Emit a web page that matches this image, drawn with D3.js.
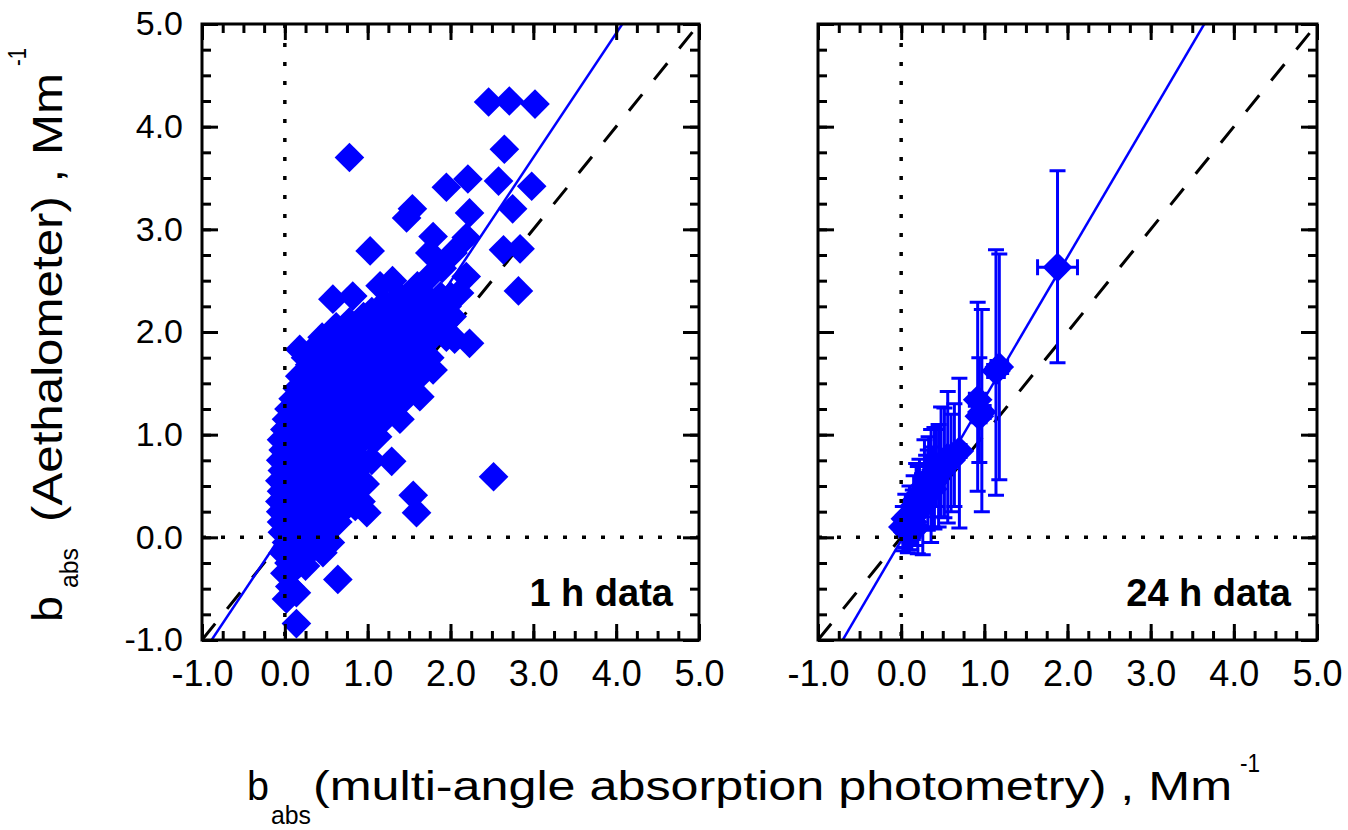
<!DOCTYPE html>
<html>
<head>
<meta charset="utf-8">
<script src="https://cdn.jsdelivr.net/npm/d3@7"></script>
<style>
  body { margin: 0; background: #fff; }
  text { font-family: "Liberation Sans", Arial, sans-serif; fill: #000; }
</style>
</head>
<body>
<div id="chart"></div>
<script>
// tick labels (both axes, both panels)
const axisTicks = [-1, 0, 1, 2, 3, 4, 5];

// 1 h data (dense cloud read row by row)
const hourX = [
  0.02, 0.14, 0.06, 0.14,
  0.00, 0.12, 0.25, 0.05, 0.18,
  -0.02, 0.10, 0.22, 0.35, 0.46,
  0.02, 0.16, 0.28, 0.40, 0.55,
  -0.03, 0.10, 0.22, 0.35, 0.45,
  -0.04, 0.06, 0.16, 0.28, 0.40, 0.52, 0.64,
  -0.05, 0.08, 0.20, 0.33, 0.46, 0.58, 0.72, 0.85, 0.99,
  -0.06, 0.03, 0.14, 0.26, 0.40, 0.52, 0.66, 0.80, 0.92,
  -0.04, 0.08, 0.20, 0.33, 0.46, 0.60, 0.72, 0.86, 0.97,
  -0.06, 0.03, 0.14, 0.27, 0.40, 0.54, 0.66, 0.80, 0.92,
  -0.03, 0.10, 0.22, 0.35, 0.48, 0.60, 0.72, 0.85, 0.95,
  -0.05, 0.04, 0.16, 0.28, 0.42, 0.54, 0.66, 0.80, 0.92, 1.05,
  -0.02, 0.10, 0.22, 0.35, 0.48, 0.60, 0.72, 0.85,
  -0.04, 0.06, 0.18, 0.31, 0.44, 0.56, 0.68, 0.82, 0.94, 1.06,
  0.00, 0.12, 0.25, 0.38, 0.50, 0.62, 0.75, 0.88, 1.00, 1.12,
  0.02, 0.14, 0.27, 0.40, 0.53, 0.66, 0.80, 0.93, 1.06, 1.20,
  0.05, 0.18, 0.30, 0.43, 0.56, 0.70, 0.83, 0.96, 1.10, 1.25, 1.39,
  0.10, 0.22, 0.35, 0.48, 0.62, 0.75, 0.88, 1.02, 1.15, 1.30, 1.45,
  0.15, 0.28, 0.40, 0.53, 0.66, 0.80, 0.93, 1.06, 1.20, 1.35, 1.50, 1.63,
  0.22, 0.35, 0.48, 0.62, 0.75, 0.90, 1.04, 1.18, 1.32, 1.46, 1.60,
  0.18, 0.30, 0.43, 0.56, 0.70, 0.84, 0.98, 1.12, 1.26, 1.40, 1.55, 1.79,
  0.25, 0.37, 0.50, 0.63, 0.77, 0.91, 1.05, 1.19, 1.33, 1.47, 1.62, 1.75,
  0.18, 0.38, 0.52, 0.66, 0.80, 0.95, 1.10, 1.25, 1.40, 1.55, 1.70, 2.05, 2.23,
  0.45, 0.58, 0.72, 0.87, 1.02, 1.17, 1.32, 1.47, 1.62, 1.78, 1.95,
  0.62, 0.78, 0.95, 1.10, 1.25, 1.40, 1.55, 1.70, 1.85,
  0.95, 1.12, 1.28, 1.42, 1.57, 1.72, 1.88, 2.02,
  1.05, 1.20, 1.35, 1.47, 1.62, 1.80, 1.96,
  1.38, 1.52, 1.70, 1.88, 2.00,
  0.58, 0.82, 1.15, 1.30, 1.60, 2.11, 2.82,
  1.75, 2.19, 1.90,
  1.03, 1.75, 2.03, 2.64, 2.84,
  1.79, 2.19, 1.47, 1.54, 2.23, 2.75,
  1.95, 2.21, 2.58, 2.98,
  2.65, 0.78, 2.46, 2.71, 3.02,
  2.52, 1.29, 1.55, 1.59, 0.64
];
const hourY = [
  -0.60, -0.54, -0.48, -0.84,
  -0.35, -0.30, -0.28, -0.25, -0.25,
  -0.15, -0.18, -0.12, -0.10, -0.15,
  -0.05, -0.05, -0.05, -0.05, -0.05,
  0.05, 0.00, 0.05, 0.02, 0.06,
  0.15, 0.15, 0.15, 0.15, 0.15, 0.15, 0.15,
  0.25, 0.22, 0.28, 0.20, 0.26, 0.20, 0.28, 0.30, 0.24,
  0.35, 0.35, 0.35, 0.35, 0.35, 0.35, 0.35, 0.35, 0.35,
  0.45, 0.42, 0.48, 0.44, 0.50, 0.42, 0.48, 0.45, 0.52,
  0.55, 0.55, 0.55, 0.55, 0.55, 0.55, 0.55, 0.55, 0.55,
  0.65, 0.62, 0.68, 0.62, 0.70, 0.64, 0.70, 0.66, 0.72,
  0.75, 0.75, 0.75, 0.75, 0.75, 0.75, 0.75, 0.75, 0.75, 0.75,
  0.85, 0.88, 0.82, 0.90, 0.84, 0.90, 0.84, 0.90,
  0.95, 0.95, 0.95, 0.95, 0.95, 0.95, 0.95, 0.95, 0.95, 0.95,
  1.05, 1.08, 1.02, 1.10, 1.04, 1.10, 1.02, 1.10, 1.05, 0.98,
  1.15, 1.15, 1.15, 1.15, 1.15, 1.15, 1.15, 1.15, 1.15, 1.15,
  1.25, 1.28, 1.22, 1.30, 1.24, 1.30, 1.22, 1.30, 1.25, 1.22, 1.15,
  1.35, 1.35, 1.35, 1.35, 1.35, 1.35, 1.35, 1.35, 1.35, 1.35, 1.35,
  1.45, 1.50, 1.42, 1.50, 1.44, 1.52, 1.44, 1.50, 1.45, 1.50, 1.42, 1.37,
  1.55, 1.55, 1.55, 1.55, 1.55, 1.55, 1.55, 1.55, 1.55, 1.55, 1.55,
  1.57, 1.68, 1.62, 1.70, 1.64, 1.70, 1.62, 1.70, 1.64, 1.70, 1.66, 1.63,
  1.75, 1.75, 1.75, 1.75, 1.75, 1.75, 1.75, 1.75, 1.75, 1.75, 1.75, 1.75,
  1.83, 1.86, 1.90, 1.84, 1.92, 1.86, 1.92, 1.86, 1.92, 1.88, 1.92, 1.93, 1.89,
  1.95, 1.95, 1.95, 1.95, 1.95, 1.95, 1.95, 1.95, 1.95, 1.95, 1.95,
  2.05, 2.10, 2.04, 2.10, 2.05, 2.10, 2.04, 2.10, 2.06,
  2.15, 2.15, 2.15, 2.15, 2.15, 2.15, 2.15, 2.15,
  2.20, 2.28, 2.22, 2.25, 2.30, 2.22, 2.25,
  2.35, 2.35, 2.35, 2.35, 2.35,
  2.32, 2.35, 2.45, 2.50, 2.45, 2.38, 2.40,
  2.54, 2.54, 2.62,
  2.79, 2.77, 2.77, 2.80, 2.81,
  2.93, 2.92, 3.11, 3.20, 3.16, 3.20,
  3.41, 3.49, 3.47, 3.42,
  3.78, 3.70, 4.24, 4.25, 4.22,
  0.59, 0.74, 0.41, 0.24, -0.41
];

// 24 h data
const dayX     = [0.02, 0.05, 0.08, 0.10, 0.12, 0.14, 0.15, 0.16, 0.18, 0.20, 0.22, 0.25, 0.26, 0.28, 0.30, 0.32, 0.33, 0.36, 0.38, 0.40, 0.42, 0.45, 0.48, 0.52, 0.56, 0.60, 0.64, 0.70, 0.92, 0.97, 0.94, 1.14, 1.18, 1.88];
const dayY     = [0.10, 0.18, 0.05, 0.22, 0.12, 0.15, 0.30, 0.08, 0.36, 0.25, 0.42, 0.35, 0.30, 0.50, 0.40, 0.45, 0.55, 0.60, 0.47, 0.55, 0.66, 0.62, 0.70, 0.74, 0.78, 0.75, 0.80, 0.84, 1.34, 1.22, 1.18, 1.62, 1.66, 2.63];
const dayXErr  = [0.05, 0.05, 0.06, 0.05, 0.06, 0.05, 0.05, 0.06, 0.06, 0.05, 0.06, 0.06, 0.05, 0.07, 0.06, 0.06, 0.07, 0.07, 0.06, 0.07, 0.07, 0.08, 0.08, 0.08, 0.08, 0.08, 0.08, 0.08, 0.10, 0.10, 0.08, 0.10, 0.10, 0.24];
const dayYLow  = [-0.13, -0.10, -0.15, -0.05, -0.12, -0.02, 0.00, -0.08, 0.05, -0.16, 0.12, 0.10, -0.17, 0.25, 0.20, 0.07, 0.35, -0.05, 0.10, 0.08, 0.30, 0.10, 0.20, 0.19, 0.14, 0.25, 0.30, 0.09, 0.45, 0.25, 0.73, 0.41, 0.56, 1.70];
const dayYHigh = [0.30, 0.42, 0.25, 0.50, 0.35, 0.46, 0.60, 0.28, 0.72, 0.69, 0.76, 0.62, 0.55, 0.95, 0.80, 0.85, 0.98, 1.05, 0.88, 1.07, 1.05, 1.10, 1.27, 1.26, 1.42, 1.20, 1.30, 1.55, 2.29, 2.22, 1.75, 2.80, 2.76, 3.57];

// regression lines: [slope, intercept]
const fitHour = [1.21, 0.07];
const fitDay = [1.38, -0.03];

const width = 1348, height = 830;
const blue = '#0000ff';
const plotTop = 24, plotH = 616;

const svg = d3.select('#chart')
  .append('svg')
  .attr('width', width)
  .attr('height', height);

const diamond = d3.symbol(d3.symbolSquare, 440)();

function drawPanel(left, plotW, name, yLabels, fit) {
  const x = d3.scaleLinear().domain([-1, 5]).range([0, plotW]);
  const y = d3.scaleLinear().domain([-1, 5]).range([plotH, 0]);
  const minor = d3.range(-1, 5.001, 0.25);

  const g = svg.append('g').attr('transform', `translate(${left},${plotTop})`);

  g.append('clipPath').attr('id', 'clip-' + name)
    .append('rect').attr('width', plotW).attr('height', plotH);

  const plot = g.append('g').attr('clip-path', `url(#clip-${name})`);

  // 1:1 line
  plot.append('line')
    .attr('x1', x(-1)).attr('y1', y(-1)).attr('x2', x(5)).attr('y2', y(5))
    .attr('stroke', '#000').attr('stroke-width', 3)
    .attr('stroke-dasharray', '21,19');

  // fit line
  plot.append('line')
    .attr('x1', x(-1.5)).attr('y1', y(fit[0] * -1.5 + fit[1]))
    .attr('x2', x(5)).attr('y2', y(fit[0] * 5 + fit[1]))
    .attr('stroke', blue).attr('stroke-width', 2.5);

  // axes: major and minor ticks, inward on all sides
  const fmt = d => d.toFixed(1);
  const styleAxis = sel => {
    sel.select('.domain').remove();
    sel.selectAll('line').attr('stroke', '#000').attr('stroke-width', 3);
  };
  g.append('g').attr('transform', `translate(0,${plotH})`)
    .call(d3.axisBottom(x).tickValues(axisTicks).tickSize(-16).tickPadding(20).tickFormat(fmt))
    .call(styleAxis)
    .selectAll('text').attr('font-size', 36).style('font-family', '"Liberation Sans", Arial, sans-serif');
  g.append('g').attr('transform', `translate(0,${plotH})`)
    .call(d3.axisBottom(x).tickValues(minor).tickSize(-9).tickFormat(''))
    .call(styleAxis);
  g.append('g')
    .call(d3.axisTop(x).tickValues(axisTicks).tickSize(-16).tickFormat(''))
    .call(styleAxis);
  g.append('g')
    .call(d3.axisTop(x).tickValues(minor).tickSize(-9).tickFormat(''))
    .call(styleAxis);
  const yAxis = g.append('g')
    .call(d3.axisLeft(y).tickValues(axisTicks).tickSize(-16).tickPadding(19)
      .tickFormat(yLabels ? fmt : ''))
    .call(styleAxis);
  yAxis.selectAll('text').attr('font-size', 34).style('font-family', '"Liberation Sans", Arial, sans-serif');
  g.append('g')
    .call(d3.axisLeft(y).tickValues(minor).tickSize(-9).tickFormat(''))
    .call(styleAxis);
  g.append('g').attr('transform', `translate(${plotW},0)`)
    .call(d3.axisRight(y).tickValues(axisTicks).tickSize(-16).tickFormat(''))
    .call(styleAxis);
  g.append('g').attr('transform', `translate(${plotW},0)`)
    .call(d3.axisRight(y).tickValues(minor).tickSize(-9).tickFormat(''))
    .call(styleAxis);

  g.append('rect')
    .attr('width', plotW).attr('height', plotH)
    .attr('fill', 'none').attr('stroke', '#000').attr('stroke-width', 3);

  return { g, plot, x, y, plotW };
}

function zeroLines(p) {
  const { plot, x, y } = p;
  plot.append('line')
    .attr('x1', x(0)).attr('y1', y(5)).attr('x2', x(0)).attr('y2', y(-1))
    .attr('stroke', '#000').attr('stroke-width', 3.5).attr('stroke-dasharray', '4,15');
  plot.append('line')
    .attr('x1', x(-1)).attr('y1', y(0)).attr('x2', x(5)).attr('y2', y(0))
    .attr('stroke', '#000').attr('stroke-width', 3.5).attr('stroke-dasharray', '4,15');
}

function panelLabel(p, text) {
  p.g.append('text')
    .attr('x', p.plotW - 26).attr('y', 582)
    .attr('text-anchor', 'end')
    .attr('font-size', 38).attr('font-weight', 'bold')
    .text(text);
}

// left panel: 1 h data
const left = drawPanel(202, 497, 'hour', true, fitHour);
left.plot.selectAll('path.pt')
  .data(hourX.map((v, i) => [v, hourY[i]]))
  .join('path')
  .attr('class', 'pt')
  .attr('d', diamond)
  .attr('transform', d => `translate(${left.x(d[0])},${left.y(d[1])}) rotate(45)`)
  .attr('fill', blue);
zeroLines(left);
panelLabel(left, '1 h data');

// right panel: 24 h data with error bars
const right = drawPanel(818, 499, 'day', false, fitDay);
const dayData = dayX.map((v, i) => ({ x: v, y: dayY[i], xe: dayXErr[i], lo: dayYLow[i], hi: dayYHigh[i] }));
const eb = right.plot.append('g')
  .attr('stroke', blue).attr('stroke-width', 3).attr('fill', 'none');
dayData.forEach(d => {
  const { x, y } = right;
  const path = d3.path();
  // vertical bar with caps
  path.moveTo(x(d.x), y(d.lo)); path.lineTo(x(d.x), y(d.hi));
  path.moveTo(x(d.x) - 8, y(d.lo)); path.lineTo(x(d.x) + 8, y(d.lo));
  path.moveTo(x(d.x) - 8, y(d.hi)); path.lineTo(x(d.x) + 8, y(d.hi));
  // horizontal bar with caps
  path.moveTo(x(d.x - d.xe), y(d.y)); path.lineTo(x(d.x + d.xe), y(d.y));
  path.moveTo(x(d.x - d.xe), y(d.y) - 8); path.lineTo(x(d.x - d.xe), y(d.y) + 8);
  path.moveTo(x(d.x + d.xe), y(d.y) - 8); path.lineTo(x(d.x + d.xe), y(d.y) + 8);
  eb.append('path').attr('d', path.toString());
});
right.plot.selectAll('path.pt')
  .data(dayData)
  .join('path')
  .attr('class', 'pt')
  .attr('d', diamond)
  .attr('transform', d => `translate(${right.x(d.x)},${right.y(d.y)}) rotate(45)`)
  .attr('fill', blue);
zeroLines(right);
panelLabel(right, '24 h data');

// axis titles
const xt = svg.append('g');
xt.append('text').attr('x', 247).attr('y', 800).attr('font-size', 40)
  .attr('textLength', 22).attr('lengthAdjust', 'spacingAndGlyphs').text('b');
xt.append('text').attr('x', 271).attr('y', 824).attr('font-size', 25)
  .attr('textLength', 40).attr('lengthAdjust', 'spacingAndGlyphs').text('abs');
xt.append('text').attr('x', 313).attr('y', 800).attr('font-size', 40)
  .attr('textLength', 919).attr('lengthAdjust', 'spacingAndGlyphs')
  .text('(multi-angle absorption photometry) ,  Mm');
xt.append('text').attr('x', 1240).attr('y', 772).attr('font-size', 25)
  .attr('textLength', 20).attr('lengthAdjust', 'spacingAndGlyphs').text('-1');

const yt = svg.append('g').attr('transform', 'translate(62,622) rotate(-90)');
yt.append('text').attr('x', 0).attr('y', 0).attr('font-size', 42)
  .attr('textLength', 26).attr('lengthAdjust', 'spacingAndGlyphs').text('b');
yt.append('text').attr('x', 34).attr('y', 16).attr('font-size', 25)
  .attr('textLength', 40).attr('lengthAdjust', 'spacingAndGlyphs').text('abs');
yt.append('text').attr('x', 100).attr('y', 0).attr('font-size', 42)
  .attr('textLength', 449).attr('lengthAdjust', 'spacingAndGlyphs')
  .text('(Aethalometer) ,  Mm');
yt.append('text').attr('x', 556).attr('y', -36).attr('font-size', 25)
  .attr('textLength', 18).attr('lengthAdjust', 'spacingAndGlyphs').text('-1');
</script>
</body>
</html>
